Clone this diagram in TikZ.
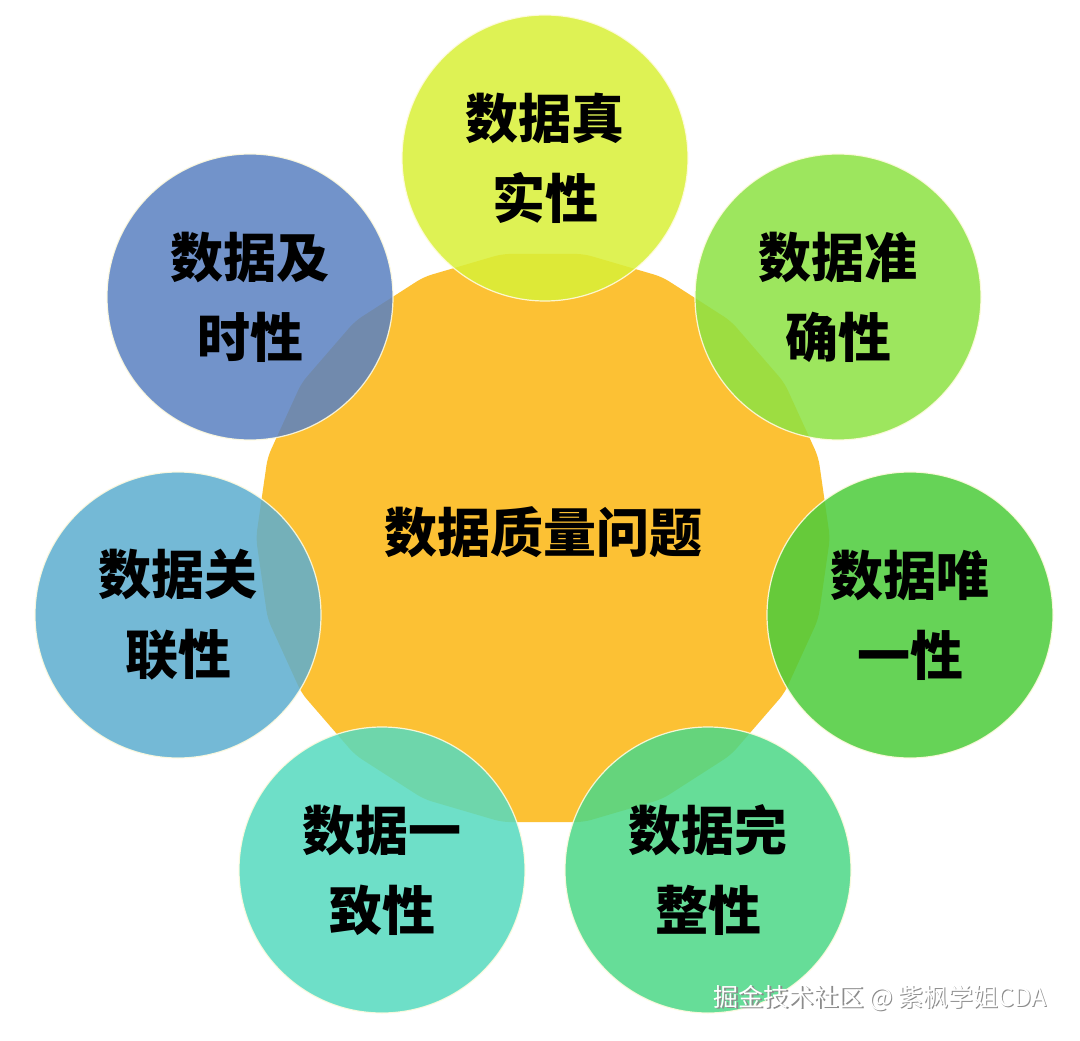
\documentclass[tikz,border=0pt]{standalone}
\usepackage{fontspec}
\newfontfamily\cjk{Noto Sans CJK SC}
\usetikzlibrary{shapes.geometric}
\definecolor{cCenter}{HTML}{FCC134}
\definecolor{cTop}{HTML}{D9F038}
\definecolor{cUR}{HTML}{8EE244}
\definecolor{cR}{HTML}{4ECC3C}
\definecolor{cLR}{HTML}{4DD888}
\definecolor{cLL}{HTML}{57DABF}
\definecolor{cL}{HTML}{5EAED0}
\definecolor{cUL}{HTML}{5B82C2}
\definecolor{cEdge}{HTML}{FFFBE0}
\tikzset{
  x=1pt, y=-1pt,
  ball/.style={circle, minimum size=286pt, inner sep=0pt, fill opacity=0.86, text opacity=1, draw=cEdge, line width=1.2pt, draw opacity=0.9, align=center, font=\cjk\bfseries\fontsize{53}{80}\selectfont},
  hub/.style={regular polygon, regular polygon sides=22, minimum size=574pt, inner sep=0pt, fill=cCenter, rounded corners=8pt}
}
\begin{document}
\begin{tikzpicture}
\useasboundingbox[fill=white] (0,0) rectangle (1080,1041);
\node[hub] (hub) at (543,538) {};
\node (hubtext) at (543,532) {\cjk\bfseries\fontsize{53}{60}\selectfont 数据质量问题};
\node[ball, fill=cTop] (top) at (545,158) {数据真\\实性};
\node[ball, fill=cUR] (ur) at (838,297) {数据准\\确性};
\node[ball, fill=cR] (r) at (910,615) {数据唯\\一性};
\node[ball, fill=cLR] (lr) at (708,870) {数据完\\整性};
\node[ball, fill=cLL] (ll) at (382,870) {数据一\\致性};
\node[ball, fill=cL] (l) at (178,615) {数据关\\联性};
\node[ball, fill=cUL] (ul) at (250,297) {数据及\\时性};
\node[font=\cjk\fontsize{25}{28}\selectfont, text=black!45, anchor=east] (wmshadow) at (1051.5,999.5) {掘金技术社区 @ 紫枫学姐CDA};
\node[font=\cjk\fontsize{25}{28}\selectfont, text=white, anchor=east] (wm) at (1050,998) {掘金技术社区 @ 紫枫学姐CDA};
\end{tikzpicture}
\end{document}
